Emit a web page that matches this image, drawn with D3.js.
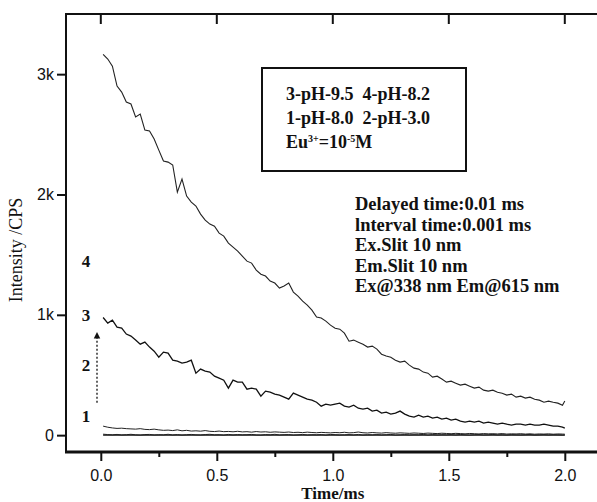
<!DOCTYPE html>
<html>
<head>
<meta charset="utf-8">
<script src="https://cdn.jsdelivr.net/npm/d3@7"></script>
<style>
  body { margin: 0; background: #fff; }
  .tick text { font-family: "Liberation Sans", Arial, sans-serif; font-size: 16px; fill: #111; }
  .note { font-family: "Liberation Serif", "Times New Roman", serif; font-weight: bold; fill: #111; }
</style>
</head>
<body>
<script>
// Decay curves, Eu3+ luminescence, intensity (CPS) vs time (ms)
// sampling grid of the traces: 0.01, 0.03, ... 1.99, then 2.00
var sampleStart = 0.01, sampleStep = 0.02;

var xTicks = [0, 0.5, 1.0, 1.5, 2.0],
    xMinor = [0.25, 0.75, 1.25, 1.75],
    yTicks = [0, 1000, 2000, 3000],
    yTickLabels = ["0", "1k", "2k", "3k"];

// 4 - pH 8.2
var curve4 = [3165,3126,3067,2901,2851,2768,2752,2644,2669,2535,
              2527,2461,2369,2278,2269,2245,2020,2128,1987,1937,
              1904,1837,1787,1754,1737,1679,1654,1596,1563,1530,
              1488,1446,1430,1372,1338,1322,1280,1264,1222,1239,
              1264,1189,1156,1114,1081,1039,981,973,948,914,
              889,881,848,781,790,773,756,732,740,715,
              673,657,648,623,607,615,582,557,549,524,
              515,482,490,466,441,449,432,416,424,407,
              391,399,374,366,374,357,349,333,341,316,
              324,308,316,299,291,274,283,274,266,249,
              283];

// 3 - pH 9.5
var curve3 = [978,931,956,898,889,840,823,790,756,773,
              732,698,648,690,682,623,615,599,607,623,
              515,549,532,524,490,474,457,391,457,441,
              441,382,391,382,324,366,357,341,333,316,
              299,349,333,316,299,291,274,241,258,249,
              258,266,241,233,249,224,216,224,200,208,
              183,191,175,183,200,175,158,150,166,150,
              158,141,150,133,141,125,133,116,108,116,
              108,116,100,108,100,91,100,91,83,91,
              91,83,91,83,83,91,83,75,75,67,
              58];

// 2 - pH 3.0
var curve2 = [75,66,60,56,58,54,52,50,54,48,
              46,50,44,40,42,38,44,36,40,34,
              36,33,38,32,30,34,29,31,28,32,
              27,29,25,30,26,28,24,27,25,23,
              26,22,24,21,25,22,20,23,21,19,
              22,20,24,19,21,26,20,18,22,19,
              17,21,18,16,19,17,15,18,16,14,
              17,15,13,16,14,12,15,13,11,14,
              12,10,13,11,12,10,13,9,11,10,
              12,9,11,8,10,9,11,8,10,9,
              8];

// 1 - pH 8.0
var curve1 = [8,5,3,6,2,4,7,3,1,5,
              6,2,4,3,7,2,5,1,4,6,
              3,2,5,7,3,4,1,6,2,5,
              3,4,6,2,1,5,3,7,2,4,
              5,1,3,6,2,4,3,5,1,6,
              4,2,3,5,2,6,1,4,3,5,
              2,4,6,1,3,5,2,4,3,6,
              1,5,2,4,3,5,2,6,3,1,
              4,5,2,3,6,2,4,1,5,3,
              2,4,6,1,3,5,2,4,3,1,
              2];

var legendLines = ["3-pH-9.5  4-pH-8.2", "1-pH-8.0  2-pH-3.0"],
    noteLines = ["Delayed time:0.01 ms", "lnterval time:0.001 ms", "Ex.Slit 10 nm",
                 "Em.Slit 10 nm", "Ex@338 nm Em@615 nm"],
    curveLabels = [{name: "4", v: 1450}, {name: "3", v: 1000},
                   {name: "2", v: 580}, {name: "1", v: 160}];

var W = 597, H = 502;
var plotLeft = 66, plotTop = 14, plotBottom = 452;

var times = curve4.map((d, i) => i === curve4.length - 1 ? 2.0 : sampleStart + sampleStep * i);

var xScale = d3.scaleLinear().domain([-0.15, 2.25]).range([plotLeft, plotLeft + 2.4 * 232]),
    yScale = d3.scaleLinear().domain([-140, 3500]).range([plotBottom, plotTop]);

var svg = d3.select("body").append("svg")
            .attr("width", W)
            .attr("height", H);

// axes
var xAxis = d3.axisBottom(xScale)
              .tickValues(xTicks)
              .tickSize(9)
              .tickPadding(6)
              .tickFormat(d3.format(".1f"));

var xAxisMinor = d3.axisBottom(xScale)
                   .tickValues(xMinor)
                   .tickSize(5)
                   .tickFormat("");

var yAxis = d3.axisLeft(yScale)
              .tickValues(yTicks)
              .tickSize(9)
              .tickPadding(3)
              .tickFormat((d, i) => yTickLabels[i]);

var gx = svg.append("g")
   .attr("transform", "translate(0," + plotBottom + ")")
   .call(xAxis);
svg.append("g")
   .attr("transform", "translate(0," + plotBottom + ")")
   .call(xAxisMinor);

var gy = svg.append("g")
   .attr("transform", "translate(" + plotLeft + ",0)")
   .call(yAxis);

svg.selectAll(".domain").remove();
svg.selectAll(".tick line").attr("stroke", "#111").attr("stroke-width", 2);
gx.selectAll(".tick text").attr("dy", "0.9em");

// top ticks pointing inside
svg.append("g")
   .selectAll("line")
   .data(xTicks)
   .enter()
   .append("line")
   .attr("x1", d => xScale(d)).attr("x2", d => xScale(d))
   .attr("y1", plotTop).attr("y2", plotTop + 10)
   .attr("stroke", "#111")
   .attr("stroke-width", 2);

// frame
svg.append("line")
   .attr("x1", plotLeft).attr("x2", W + 10)
   .attr("y1", plotTop).attr("y2", plotTop)
   .attr("stroke", "#111").attr("stroke-width", 2);
svg.append("line")
   .attr("x1", plotLeft).attr("x2", plotLeft)
   .attr("y1", plotTop - 1).attr("y2", plotBottom + 1)
   .attr("stroke", "#111").attr("stroke-width", 2);
svg.append("line")
   .attr("x1", plotLeft - 1).attr("x2", W + 10)
   .attr("y1", plotBottom).attr("y2", plotBottom)
   .attr("stroke", "#111").attr("stroke-width", 3);

// axis titles
svg.append("text")
   .attr("transform", "translate(22," + 250 + ") rotate(-90)")
   .attr("text-anchor", "middle")
   .style("font-family", "'Liberation Serif', 'Times New Roman', serif")
   .style("font-size", "18px")
   .style("fill", "#111")
   .text("Intensity /CPS");

svg.append("text")
   .attr("x", xScale(1.0))
   .attr("y", 499)
   .attr("text-anchor", "middle")
   .style("font-family", "'Liberation Serif', 'Times New Roman', serif")
   .style("font-weight", "bold")
   .style("font-size", "17px")
   .style("fill", "#111")
   .text("Time/ms");

// curves
var line = d3.line()
    .x((d, i) => xScale(times[i]))
    .y(d => yScale(d))
    .curve(d3.curveLinear);

svg.append("line")
   .attr("x1", xScale(sampleStart)).attr("x2", xScale(2.0))
   .attr("y1", yScale(0)).attr("y2", yScale(0))
   .attr("stroke", "#111").attr("stroke-width", 1.2);

var series = [
  {values: curve1, width: 1.0, color: "#222"},
  {values: curve2, width: 1.0, color: "#222"},
  {values: curve3, width: 1.3, color: "#111"},
  {values: curve4, width: 1.1, color: "#222"}
];

svg.selectAll(".curve")
   .data(series)
   .enter()
   .append("path")
   .attr("class", "curve")
   .attr("d", d => line(d.values))
   .attr("fill", "none")
   .attr("stroke", d => d.color)
   .attr("stroke-width", d => d.width);

// curve numbers and dotted arrow
svg.selectAll(".clabel")
   .data(curveLabels)
   .enter()
   .append("text")
   .attr("class", "clabel note")
   .attr("x", 86)
   .attr("y", d => yScale(d.v))
   .attr("text-anchor", "middle")
   .attr("dy", "0.35em")
   .style("font-size", "17px")
   .text(d => d.name);

svg.append("defs")
   .append("marker")
   .attr("id", "head")
   .attr("viewBox", "0 0 10 10")
   .attr("refX", 5).attr("refY", 5)
   .attr("markerWidth", 5).attr("markerHeight", 6)
   .attr("orient", "auto")
   .append("path")
   .attr("d", "M0,0 L10,5 L0,10 z")
   .attr("fill", "#111");

svg.append("line")
   .attr("x1", 97).attr("x2", 97)
   .attr("y1", yScale(270)).attr("y2", yScale(830))
   .attr("stroke", "#111")
   .attr("stroke-width", 1.3)
   .attr("stroke-dasharray", "2,2")
   .attr("marker-end", "url(#head)");

// legend box
svg.append("rect")
   .attr("x", 262).attr("y", 68)
   .attr("width", 204).attr("height", 103)
   .attr("fill", "none")
   .attr("stroke", "#111")
   .attr("stroke-width", 2);

svg.selectAll(".leg")
   .data(legendLines)
   .enter()
   .append("text")
   .attr("class", "leg note")
   .attr("x", 286)
   .attr("y", (d, i) => 100 + i * 24)
   .style("font-size", "18px")
   .style("white-space", "pre")
   .text(d => d);

var eu = svg.append("text")
   .attr("class", "note")
   .attr("x", 286)
   .attr("y", 148)
   .style("font-size", "18px");
eu.append("tspan").text("Eu");
eu.append("tspan").attr("dy", -6).style("font-size", "10px").text("3+");
eu.append("tspan").attr("dy", 6).text("=10");
eu.append("tspan").attr("dy", -6).style("font-size", "10px").text("-5");
eu.append("tspan").attr("dy", 6).text("M");

// measurement notes
svg.selectAll(".cond")
   .data(noteLines)
   .enter()
   .append("text")
   .attr("class", "cond note")
   .attr("x", 355)
   .attr("y", (d, i) => 210 + i * 20.5)
   .style("font-size", "18.5px")
   .text(d => d);
</script>
</body>
</html>
